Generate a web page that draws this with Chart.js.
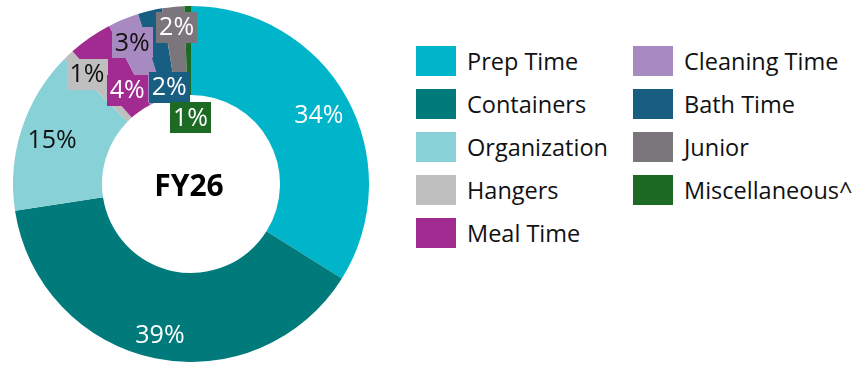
<!DOCTYPE html>
<html>
<head>
<meta charset="utf-8">
<script src="https://cdn.jsdelivr.net/npm/chart.js@4"></script>
<style>
  html, body { margin: 0; padding: 0; background: #fff; }
  body { width: 861px; height: 366px; position: relative; overflow: hidden; font-family: "Open Sans", sans-serif; }
  #wrap { position: absolute; left: 13px; top: 6px; width: 356px; height: 356px; }
  #legend { position: absolute; left: 416px; top: 46px; display: grid; grid-auto-flow: column;
            grid-template-rows: repeat(5, 43px); grid-template-columns: 217px 220px; }
  .item { display: flex; align-items: flex-start; height: 43px; }
  .sw { width: 40px; height: 30px; flex: none; }
  .tx { margin-left: 11px; font-size: 23.5px; line-height: 31px; color: #111; white-space: nowrap; }
</style>
</head>
<body>
<div id="wrap"><canvas id="c"></canvas></div>
<div id="legend"></div>
<script>
// FY26 time split by category (share of total, %)
const categories = ['Prep Time', 'Containers', 'Organization', 'Hangers', 'Meal Time',
                    'Cleaning Time', 'Bath Time', 'Junior', 'Miscellaneous^'];
const shares = [33.9, 38.7, 14.8, 1.0, 4.0, 2.8, 2.2, 2.0, 0.6];
const centerTitle = 'FY26';

const colors = ['#00B5C9', '#007A7B', '#88D1D6', '#BFBFBF', '#A12B90',
                '#A78AC0', '#175E82', '#7B767B', '#1C6A23'];

// Data-label styling per slice: text colour, optional box fill, nudge from the slice centroid
const labelStyle = [
  { color: '#fff', box: null,      dx: 11,  dy: -4 },
  { color: '#fff', box: null,      dx: -4,  dy: 20 },
  { color: '#111', box: null,      dx: -12, dy: -3 },
  { color: '#111', box: '#BFBFBF', dx: -12, dy: -13 },
  { color: '#fff', box: '#A12B90', dx: 12,  dy: 16 },
  { color: '#111', box: '#A78AC0', dx: -8,  dy: -18 },
  { color: '#fff', box: '#175E82', dx: 9,   dy: 33 },
  { color: '#fff', box: '#7B767B', dx: -1,  dy: -24 },
  { color: '#fff', box: '#1C6A23', dx: 2,   dy: 67 }
];

const sliceLabels = {
  id: 'sliceLabels',
  afterDatasetsDraw(chart) {
    const ctx = chart.ctx;
    const meta = chart.getDatasetMeta(0);
    const total = shares.reduce((a, b) => a + b, 0);
    ctx.save();
    ctx.font = '25px "Open Sans"';
    ctx.textAlign = 'center';
    ctx.textBaseline = 'middle';
    meta.data.forEach((arc, i) => {
      const p = arc.tooltipPosition();
      const st = labelStyle[i];
      const x = p.x + st.dx, y = p.y + st.dy;
      const txt = Math.round(shares[i] / total * 100) + '%';
      const w = ctx.measureText(txt).width + 6;
      if (st.box) {
        ctx.fillStyle = st.box;
        ctx.fillRect(Math.round(x - w / 2), Math.round(y - 15.5), Math.round(w), 31);
      }
      ctx.fillStyle = st.color;
      ctx.fillText(txt, x, y + 1);
    });
    // centre title
    const a = meta.data[0];
    ctx.font = 'bold 30px "Open Sans"';
    ctx.fillStyle = '#000';
    ctx.fillText(centerTitle, a.x - 2, a.y + 3);
    ctx.restore();
  }
};

new Chart(document.getElementById('c'), {
  type: 'doughnut',
  data: {
    labels: categories,
    datasets: [{ data: shares, backgroundColor: colors, borderWidth: 0 }]
  },
  options: {
    responsive: true,
    maintainAspectRatio: false,
    animation: false,
    cutout: '50%',
    layout: { padding: 0 },
    plugins: { legend: { display: false }, tooltip: { enabled: false } }
  },
  plugins: [sliceLabels]
});

// legend, two columns
const lg = document.getElementById('legend');
categories.forEach((name, i) => {
  const it = document.createElement('div');
  it.className = 'item';
  const sw = document.createElement('div');
  sw.className = 'sw';
  sw.style.background = colors[i];
  const tx = document.createElement('div');
  tx.className = 'tx';
  tx.textContent = name;
  it.appendChild(sw); it.appendChild(tx);
  lg.appendChild(it);
});
</script>
</body>
</html>
